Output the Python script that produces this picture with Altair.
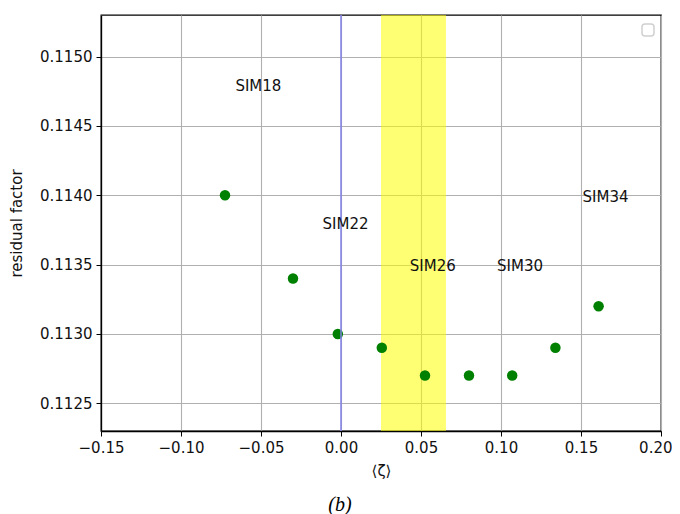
import altair as alt
import pandas as pd

zeta = [-0.0725, -0.030, -0.002, 0.0255, 0.0525, 0.080, 0.107, 0.134, 0.161]
resid = [0.1140, 0.1134, 0.1130, 0.1129, 0.1127, 0.1127, 0.1127, 0.1129, 0.1132]

label_text = ["SIM18", "SIM22", "SIM26", "SIM30", "SIM34"]
label_x = [-0.066, -0.0115, 0.043, 0.0975, 0.151]
label_y = [0.114755, 0.113755, 0.113455, 0.113455, 0.113955]

band = [0.025, 0.0656]
vline = [0.0]

x_ticks = [-0.15, -0.10, -0.05, 0.0, 0.05, 0.10, 0.15, 0.20]
y_ticks = [0.1125, 0.1130, 0.1135, 0.1140, 0.1145, 0.1150]

pts = pd.DataFrame({"zeta": zeta, "resid": resid})
labels = pd.DataFrame({"text": label_text, "x": label_x, "y": label_y})
band_df = pd.DataFrame({"x1": [band[0]], "x2": [band[1]]})
vline_df = pd.DataFrame({"x": vline})

FONT = "DejaVu Sans"
xscale = alt.Scale(domain=[-0.15, 0.20], nice=False, zero=False)
yscale = alt.Scale(domain=[0.1123, 0.1153], nice=False, zero=False)

xaxis = alt.Axis(
    values=x_ticks, format=".2f", title="⟨ζ⟩", grid=True,
    titlePadding=8, labelFlush=False,
    labelAlign={"condition": {"test": "datum.value > 0.199", "value": "right"}, "value": "center"},
    labelOffset={"condition": {"test": "datum.value > 0.199", "value": 11}, "value": 0},
)
yaxis = alt.Axis(values=y_ticks, format=".4f", title="residual factor", grid=True,
                 titlePadding=15, labelFlush=False)

band_layer = alt.Chart(band_df).mark_rect(color="#ffff00", opacity=0.55).encode(
    x=alt.X("x1:Q", scale=xscale, axis=xaxis),
    x2="x2:Q",
    y=alt.value(0),
    y2=alt.value(416),
)

points = alt.Chart(pts).mark_circle(color="#008000", opacity=1, size=110).encode(
    x=alt.X("zeta:Q", scale=xscale, axis=xaxis),
    y=alt.Y("resid:Q", scale=yscale, axis=yaxis),
)

vline_layer = alt.Chart(vline_df).mark_rule(color="#8080e8", strokeWidth=1.5).encode(
    x=alt.X("x:Q", scale=xscale),
    y=alt.value(0),
    y2=alt.value(416),
)

text_layer = alt.Chart(labels).mark_text(align="left", baseline="alphabetic",
                                          font=FONT, fontSize=15, color="#111111").encode(
    x=alt.X("x:Q", scale=xscale),
    y=alt.Y("y:Q", scale=yscale),
    text="text:N",
)

legend_box = alt.Chart(pd.DataFrame({"a": [0]})).mark_rect(
    fill="white", stroke="#d0d0d0", strokeWidth=1.5, cornerRadius=3
).encode(
    x=alt.value(541), x2=alt.value(553), y=alt.value(9), y2=alt.value(21)
)

caption = alt.Chart(pd.DataFrame({"t": ["(b)"]})).mark_text(
    font="Liberation Serif", fontStyle="italic", fontSize=20, color="black",
    align="center", baseline="middle"
).encode(
    x=alt.value(239), y=alt.value(490), text="t:N"
)

chart = alt.layer(band_layer, points, vline_layer, text_layer, legend_box, caption).properties(
    width=560, height=416,
    autosize=alt.AutoSizeParams(type="none"),
    padding={"left": 93, "top": 7, "right": 11, "bottom": 83},
).configure_view(
    stroke="black", strokeWidth=1.3
).configure_axis(
    labelFont=FONT, titleFont=FONT, labelFontSize=15, titleFontSize=15,
    titleFontWeight="normal", labelColor="#111111", titleColor="#111111",
    domainColor="black", tickColor="black", tickSize=5, labelPadding=4,
    gridColor="#b0b0b0", gridWidth=1.1, domainWidth=1.3
)

chart.save("out.html", embed_options={"renderer": "svg", "actions": False})
